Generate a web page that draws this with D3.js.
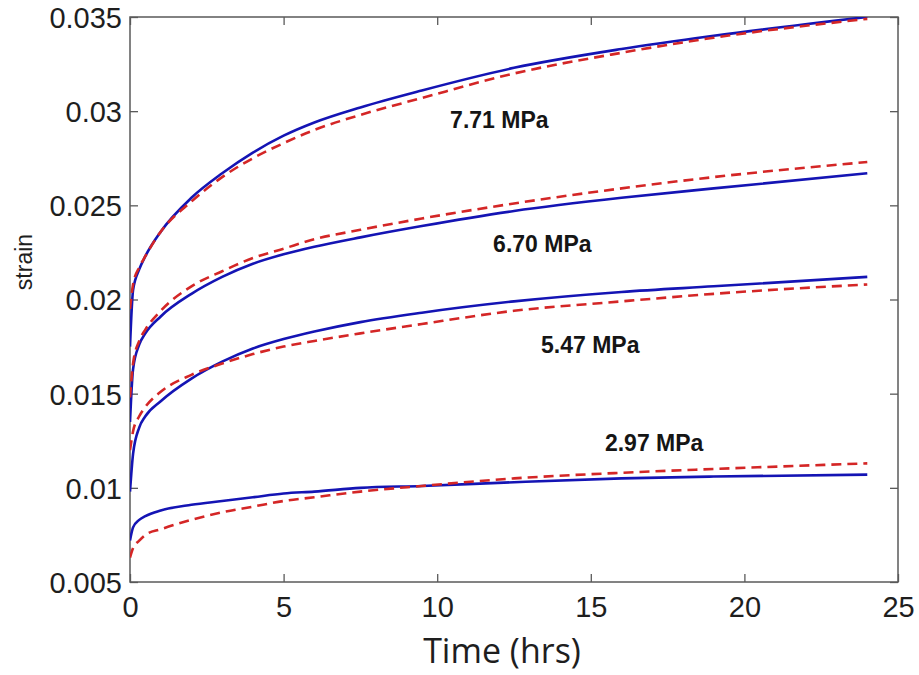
<!DOCTYPE html>
<html><head><meta charset="utf-8">
<script src="https://cdn.jsdelivr.net/npm/d3@7"></script>
<style>body{margin:0;background:#fff}</style>
</head><body>
<svg id="chart" width="919" height="675"></svg>
<script>
const times = [0, 0.1, 0.3, 0.5, 1, 2, 3, 4, 5, 6, 7.5, 9.5, 12.5, 16, 19, 24];
const exp771 = [0.0175, 0.0205, 0.0216, 0.0223, 0.0236, 0.0254, 0.0267, 0.0278, 0.0287, 0.0294, 0.0302, 0.0311, 0.0323, 0.0333, 0.0340, 0.0350];
const fit771 = [0.0195, 0.0208, 0.0217, 0.0223, 0.0236, 0.0252, 0.0265, 0.0275, 0.0283, 0.0290, 0.0298, 0.0307, 0.0320, 0.0331, 0.0339, 0.0349];
const exp670 = [0.0135, 0.0163, 0.0176, 0.0182, 0.0191, 0.0203, 0.0212, 0.0219, 0.0224, 0.0228, 0.0233, 0.0239, 0.0247, 0.0254, 0.0259, 0.0267];
const fit670 = [0.0148, 0.0166, 0.0178, 0.0184, 0.0194, 0.0207, 0.0215, 0.0222, 0.0227, 0.0232, 0.0237, 0.0243, 0.0251, 0.0259, 0.0265, 0.0273];
const exp547 = [0.0098, 0.0118, 0.0132, 0.0138, 0.0146, 0.0158, 0.0167, 0.0174, 0.0179, 0.0183, 0.0188, 0.0193, 0.0199, 0.0204, 0.0207, 0.0212];
const fit547 = [0.0120, 0.0130, 0.0138, 0.0143, 0.0151, 0.0160, 0.0166, 0.0171, 0.0175, 0.0178, 0.0182, 0.0187, 0.0194, 0.0199, 0.0203, 0.0208];
const exp297 = [0.0072, 0.0079, 0.0083, 0.0085, 0.0088, 0.0091, 0.0093, 0.0095, 0.0097, 0.0098, 0.0100, 0.0101, 0.0103, 0.0105, 0.0106, 0.0107];
const fit297 = [0.0063, 0.0068, 0.0072, 0.0075, 0.0078, 0.0083, 0.0087, 0.0090, 0.0093, 0.0095, 0.0098, 0.0101, 0.0105, 0.0108, 0.0110, 0.0113];
const stressLabels = ["7.71 MPa", "6.70 MPa", "5.47 MPa", "2.97 MPa"];
const labelPos = [[10.42, 0.0291], [11.82, 0.0225], [13.38, 0.01718], [15.46, 0.01197]];
const xTicks = [0, 5, 10, 15, 20, 25];
const yTicks = [0.005, 0.01, 0.015, 0.02, 0.025, 0.03, 0.035];
const xLabel = "Time (hrs)";
const yLabel = "strain";

const svg = d3.select("#chart");
const L = 130, T = 17, W = 768, H = 565;
const x = d3.scaleLinear().domain([0, 25]).range([L, L + W]);
const y = d3.scaleLinear().domain([0.005, 0.035]).range([T + H, T]);

svg.append("defs").append("clipPath").attr("id", "clip")
  .append("rect").attr("x", L).attr("y", T).attr("width", W).attr("height", H);

const axisColor = "#5a5a5a";
const tickFont = "'Liberation Sans', Arial, sans-serif";

const gx = svg.append("g").attr("transform", `translate(0,${T + H})`)
  .call(d3.axisBottom(x).tickValues(xTicks).tickFormat(d3.format("d")).tickSizeInner(-8).tickSizeOuter(0).tickPadding(14));
const gxt = svg.append("g").attr("transform", `translate(0,${T})`)
  .call(d3.axisTop(x).tickValues(xTicks).tickFormat("").tickSizeInner(-8).tickSizeOuter(0));
const gy = svg.append("g").attr("transform", `translate(${L},0)`)
  .call(d3.axisLeft(y).tickValues(yTicks).tickFormat(d => d3.format("")(+d.toFixed(3))).tickSizeInner(-8).tickSizeOuter(0).tickPadding(8));
const gyr = svg.append("g").attr("transform", `translate(${L + W},0)`)
  .call(d3.axisRight(y).tickValues(yTicks).tickFormat("").tickSizeInner(-8).tickSizeOuter(0));

[gx, gxt, gy, gyr].forEach(g => {
  g.select(".domain").remove();
  g.selectAll(".tick line").attr("stroke", axisColor).attr("stroke-width", 1.3);
  g.selectAll(".tick text").attr("fill", "#1e1e1e").style("font-family", tickFont).style("font-size", "29px");
});
gx.selectAll(".tick text").attr("dy", "0.71em");
gy.selectAll(".tick text").attr("dy", "0.36em");

svg.append("rect").attr("x", L).attr("y", T).attr("width", W).attr("height", H)
  .attr("fill", "none").attr("stroke", axisColor).attr("stroke-width", 1.5);

const line = d3.line().x(d => x(d[0])).y(d => y(d[1])).curve(d3.curveMonotoneX);
const plot = svg.append("g").attr("clip-path", "url(#clip)");
const pairs = [[exp771, fit771], [exp670, fit670], [exp547, fit547], [exp297, fit297]];
pairs.forEach(([e, f]) => {
  plot.append("path").datum(times.map((t, i) => [t, e[i]])).attr("d", line)
    .attr("fill", "none").attr("stroke", "#1414b4").attr("stroke-width", 2.6);
  plot.append("path").datum(times.map((t, i) => [t, f[i]])).attr("d", line)
    .attr("fill", "none").attr("stroke", "#d42626").attr("stroke-width", 2.6)
    .attr("stroke-dasharray", "10,6");
});

stressLabels.forEach((s, i) => {
  svg.append("text").attr("x", x(labelPos[i][0])).attr("y", y(labelPos[i][1]))
    .text(s).attr("fill", "#151515").style("font-family", tickFont)
    .style("font-weight", "bold").style("font-size", "23px");
});

svg.append("text").attr("x", 502).attr("y", 663).attr("text-anchor", "middle")
  .text(xLabel).attr("fill", "#1e1e1e").style("font-family", "'Open Sans', sans-serif").style("font-size", "34px");
svg.append("text").attr("transform", "translate(32,262) rotate(-90)").attr("text-anchor", "middle")
  .text(yLabel).attr("fill", "#1e1e1e").style("font-family", tickFont).style("font-size", "23px");
</script>
</body></html>
